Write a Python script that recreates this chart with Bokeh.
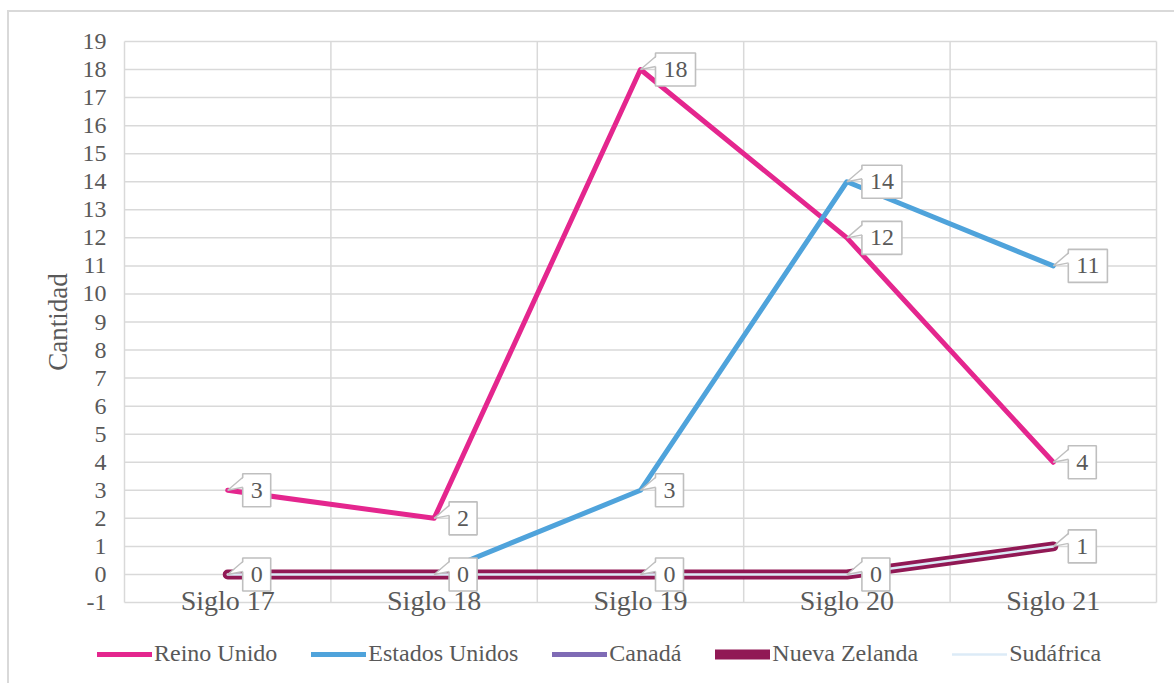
import math
from bokeh.plotting import figure
from bokeh.models import (FixedTicker, LinearAxis, Legend, LegendItem, Range1d,
                          ColumnDataSource, Label)
from bokeh.core.properties import value
from bokeh.embed import file_html
from bokeh.resources import INLINE

categories = ["Siglo 17", "Siglo 18", "Siglo 19", "Siglo 20", "Siglo 21"]
reino_unido = [3, 2, 18, 12, 4]
estados_unidos = [0, 0, 3, 14, 11]
canada = [0, 0, 0, 0, 1]
nueva_zelanda = [0, 0, 0, 0, 1]
sudafrica = [0, 0, 0, 0, 1]
y_ticks = list(range(-1, 20))
y_title = "Cantidad"

FONT = "Liberation Serif"
TXT = "#595959"
GRID = "#d9d9d9"

# figure size and plot-area margins (pixels)
W, H = 1167, 673
ML, MR, MT, MB = 115, 20, 29, 83
plot_w = W - ML - MR
plot_h = H - MT - MB

n = len(categories)
x_lo, x_hi = -0.5, n - 0.5
y_lo, y_hi = y_ticks[0], y_ticks[-1]
ux = (x_hi - x_lo) / plot_w          # data units per pixel
uy = (y_hi - y_lo) / plot_h

xs = list(range(n))
p = figure(width=W, height=H, output_backend="svg", toolbar_location=None,
           x_axis_location=None, y_axis_location=None,
           x_range=Range1d(x_lo - ML * ux, x_hi + MR * ux),
           y_range=Range1d(y_lo - MB * uy, y_hi + MT * uy),
           min_border=0)
p.styles = {"margin-left": "7px", "margin-top": "10px",
            "border-left": "2px solid #d9d9d9", "border-top": "2px solid #d9d9d9"}
p.outline_line_color = None
p.background_fill_color = "white"
p.border_fill_color = "white"
p.xgrid.grid_line_color = None
p.ygrid.grid_line_color = None

# grid lines and plot-area border
p.segment(x0=[x_lo] * len(y_ticks), x1=[x_hi] * len(y_ticks), y0=y_ticks, y1=y_ticks,
          line_color=GRID, line_width=1.5)
bounds = [i - 0.5 for i in range(n + 1)]
p.segment(x0=bounds, x1=bounds, y0=[y_lo] * len(bounds), y1=[y_hi] * len(bounds),
          line_color=GRID, line_width=1.5)

# y axis
yaxis = LinearAxis(ticker=FixedTicker(ticks=y_ticks),
                   major_label_overrides={t: str(t) for t in y_ticks})
yaxis.fixed_location = x_lo
yaxis.axis_line_color = None
yaxis.major_tick_line_color = None
yaxis.minor_tick_line_color = None
yaxis.major_tick_out = 0
yaxis.major_label_text_font = FONT
yaxis.major_label_text_font_size = "24px"
yaxis.major_label_text_color = TXT
yaxis.major_label_standoff = 18
p.add_layout(yaxis, "left")

p.add_layout(Label(x=x_lo - 67 * ux, y=(y_lo + y_hi) / 2, text=y_title,
                   angle=math.pi / 2, text_align="center", text_baseline="middle",
                   text_font=FONT, text_font_size="27px", text_color=TXT))

# x axis crossing at 0
xaxis = LinearAxis(ticker=FixedTicker(ticks=xs),
                   major_label_overrides={i: c for i, c in enumerate(categories)})
xaxis.fixed_location = 0
xaxis.axis_line_color = None
xaxis.major_tick_line_color = None
xaxis.minor_tick_line_color = None
xaxis.major_tick_out = 0
xaxis.major_label_text_font = FONT
xaxis.major_label_text_font_size = "28px"
xaxis.major_label_text_color = TXT
xaxis.major_label_standoff = 11
p.add_layout(xaxis, "below")

series = [
    ("Reino Unido", reino_unido, "#E4268E", 5),
    ("Estados Unidos", estados_unidos, "#4FA3DB", 5),
    ("Canadá", canada, "#7F6BB5", 5),
    ("Nueva Zelanda", nueva_zelanda, "#911955", 10),
    ("Sudáfrica", sudafrica, "#DCEBF7", 2.5),
]
items = []
for name, vals, col, lw in series:
    r = p.line(xs, vals, line_color=col, line_width=lw,
               line_cap="round", line_join="round")
    items.append(LegendItem(label=name, renderers=[r]))

# data labels
lx, ly, lt = [], [], []
for i, v in enumerate(reino_unido):
    lx.append(i); ly.append(v); lt.append(str(v))
for i, v in enumerate(estados_unidos):
    if v != 0:
        lx.append(i); ly.append(v); lt.append(str(v))
for i, v in enumerate(nueva_zelanda):
    lx.append(i); ly.append(v); lt.append(str(v))

src = ColumnDataSource(dict(x=lx, y=ly, t=lt))
p.text(x="x", y="y", text="t", source=src, anchor="center_left",
       text_align="left", text_baseline="middle",
       x_offset=15, padding=dict(left=8, right=8, top=9, bottom=9),
       text_font=value(FONT), text_font_size="24px", text_color=TXT,
       background_fill_color="white",
       border_line_color="#bfbfbf", border_line_width=1.6)

# callout pointers (computed from data positions)
wx, wy = [], []
for x0, y0 in zip(lx, ly):
    wx.append([x0 + 16.5 * ux, x0, x0 + 16.5 * ux])
    wy.append([y0 + 13 * uy, y0, y0 + 3 * uy])
p.patches(wx, wy, fill_color="white", line_color=None)
p.multi_line([[a[0] - 1.3 * ux, a[1], a[2] - 1.3 * ux] for a in wx],
             wy, line_color="#bfbfbf", line_width=1.4)

legend = Legend(items=items, orientation="horizontal", location=(88, 18),
                glyph_width=55, glyph_height=26, label_height=26,
                label_standoff=2, spacing=34, padding=0, margin=0,
                border_line_color=None, background_fill_alpha=0,
                label_text_font=FONT, label_text_font_size="24px",
                label_text_color=TXT)
p.add_layout(legend, "center")

open("out.html", "w").write(file_html(p, INLINE))
